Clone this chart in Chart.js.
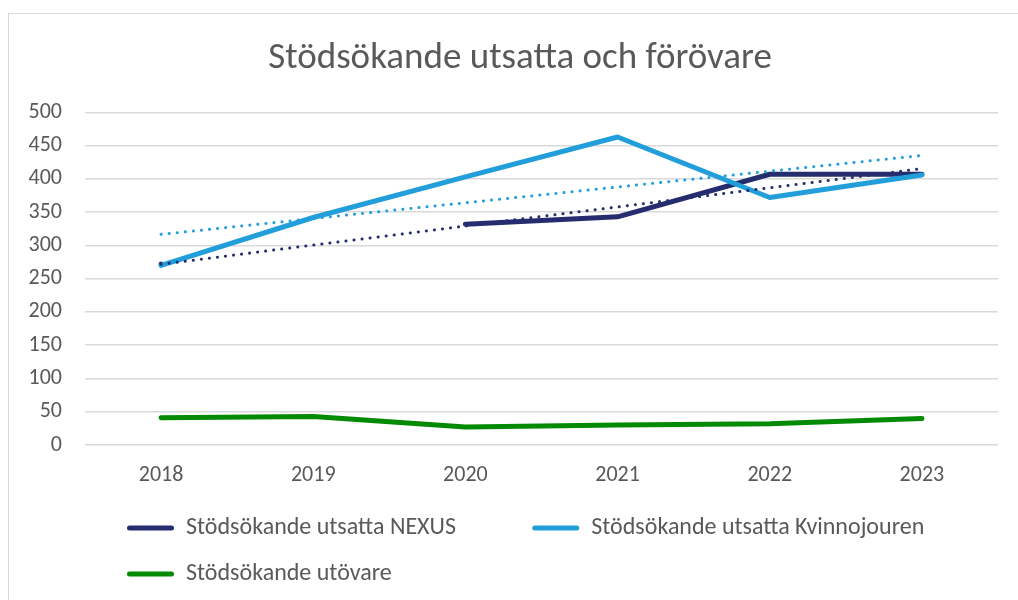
<!DOCTYPE html>
<html>
<head>
<meta charset="utf-8">
<script src="https://cdn.jsdelivr.net/npm/chart.js@4/dist/chart.umd.min.js"></script>
<style>
  html, body { margin: 0; padding: 0; background: #fff; overflow: hidden; }
  #frame { position: absolute; left: 8px; top: 13px; width: 1100px; height: 700px; border: 1.5px solid #d9d9d9; }
  #wrap { position: absolute; left: 0; top: 0; width: 1018px; height: 600px; }
</style>
</head>
<body>
<div id="frame"></div>
<div id="wrap"><canvas id="linechart"></canvas></div>
<script>
const years = ["2018", "2019", "2020", "2021", "2022", "2023"];
const nexus = [272, null, 332, 343, 407, 407];
const kvinnojouren = [270, 342, 403, 463, 372, 406];
const utovare = [41, 43, 27, 30, 32, 40];
const yTicks = [0, 50, 100, 150, 200, 250, 300, 350, 400, 450, 500];

const FONT = "Calibri, Carlito, Lato, sans-serif";
const GREY = "#595959";

// linear trendline (like Excel) over the points that exist
function trend(values) {
  const pts = values.map((v, i) => [i + 1, v]).filter(p => p[1] !== null);
  const n = pts.length;
  const mx = pts.reduce((s, p) => s + p[0], 0) / n;
  const my = pts.reduce((s, p) => s + p[1], 0) / n;
  let sxy = 0, sxx = 0;
  pts.forEach(p => { sxy += (p[0] - mx) * (p[1] - my); sxx += (p[0] - mx) ** 2; });
  const k = sxy / sxx;
  return values.map((v, i) => my + k * (i + 1 - mx));
}

// move legend and title a bit, like the Excel layout
const nudge = {
  id: "nudge",
  afterLayout(chart) {
    chart.legend.left = 105;
    chart.titleBlock.left += 32;
  },
};

new Chart(document.getElementById("linechart"), {
  type: "line",
  data: {
    labels: years,
    datasets: [
      {
        label: "Stödsökande utsatta NEXUS",
        data: nexus,
        borderColor: "#262D6E",
        backgroundColor: "#262D6E",
        borderWidth: 5,
        order: 3,
      },
      {
        label: "Stödsökande utsatta Kvinnojouren",
        data: kvinnojouren,
        borderColor: "#229FDB",
        backgroundColor: "#229FDB",
        borderWidth: 5,
        order: 2,
      },
      {
        label: "Stödsökande utövare",
        data: utovare,
        borderColor: "#038A03",
        backgroundColor: "#038A03",
        borderWidth: 5,
        order: 1,
      },
      {
        label: "trend NEXUS",
        data: trend(nexus),
        borderColor: "#262D6E",
        borderWidth: 3,
        borderDash: [0.1, 8],
        order: 0,
      },
      {
        label: "trend Kvinnojouren",
        data: trend(kvinnojouren),
        borderColor: "#229FDB",
        borderWidth: 3,
        borderDash: [0.1, 8],
        order: 0,
      },
    ],
  },
  options: {
    responsive: true,
    maintainAspectRatio: false,
    animation: false,
    layout: { padding: { left: 10, right: 20, top: 0, bottom: 4 } },
    elements: {
      point: { radius: 0, hoverRadius: 0 },
      line: { tension: 0, borderCapStyle: "round", borderJoinStyle: "round" },
    },
    spanGaps: false,
    plugins: {
      title: {
        display: true,
        text: "Stödsökande utsatta och förövare",
        color: GREY,
        font: { family: FONT, size: 37, weight: "normal" },
        padding: { top: 37, bottom: 31 },
      },
      legend: {
        position: "bottom",
        align: "start",
        labels: {
          color: GREY,
          font: { family: FONT, size: 24 },
          boxWidth: 47,
          boxHeight: 5,
          padding: 22,
          sort: (a, b) => a.datasetIndex - b.datasetIndex,
          filter: (item) => item.datasetIndex < 3,
          generateLabels(chart) {
            const items = Chart.defaults.plugins.legend.labels.generateLabels(chart);
            items.forEach(it => {
              it.lineWidth = 0;
              it.borderRadius = 2.5;
              it.lineDash = [];
              // column gap like in Excel's legend grid
              if (it.datasetIndex === 0) it.text += "\u00A0".repeat(10);
            });
            return items;
          },
        },
      },
      tooltip: { enabled: false },
    },
    scales: {
      x: {
        offset: true,
        afterFit(s) { s.height = 49; },
        grid: { display: false, drawTicks: false },
        border: { display: false },
        ticks: { color: GREY, font: { family: FONT, size: 22 }, padding: 17, maxRotation: 0 },
      },
      y: {
        min: 0,
        max: 500,
        afterFit(s) { s.width = 75; },
        afterBuildTicks(s) { s.ticks = yTicks.map(v => ({ value: v })); },
        grid: { color: "#d9d9d9", lineWidth: 1.5, drawTicks: false },
        border: { display: false },
        ticks: { color: GREY, font: { family: FONT, size: 22 }, padding: 23 },
      },
    },
  },
  plugins: [nudge],
});
</script>
</body>
</html>
